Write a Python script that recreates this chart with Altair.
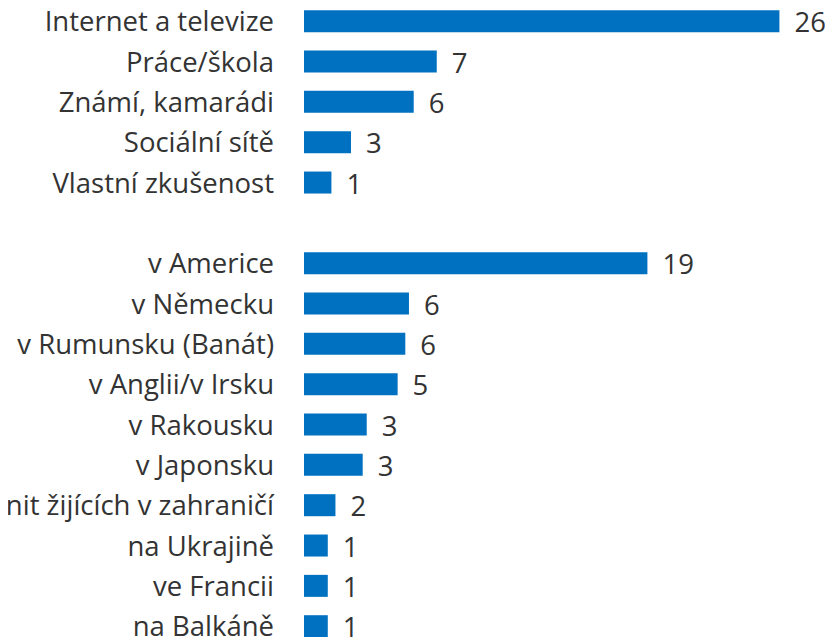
import altair as alt
import pandas as pd

categories = [
    "Internet a televize", "Práce/škola", "Známí, kamarádi", "Sociální sítě", "Vlastní zkušenost",
    "v Americe", "v Německu", "v Rumunsku (Banát)", "v Anglii/v Irsku", "v Rakousku",
    "v Japonsku", "u krajanských komunit žijících v zahraničí", "na Ukrajině", "ve Francii", "na Balkáně",
]
# bar lengths
values = [26.0, 7.26, 6.0, 2.57, 1.5,
          18.78, 5.74, 5.54, 5.12, 3.43,
          3.21, 1.72, 1.30, 1.30, 1.30]
# value labels printed next to bars
shown = ["26", "7", "6", "3", "1",
         "19", "6", "6", "5", "3",
         "3", "2", "1", "1", "1"]
# row slot (group gap after first five rows)
slots = [0, 1, 2, 3, 4, 6, 7, 8, 9, 10, 11, 12, 13, 14, 15]

df = pd.DataFrame({"cat": categories, "val": values, "lab": shown, "slot": slots})

FONT = "Open Sans"
TXT = "#333333"
BLUE = "#0070C0"

W = 512
H = 629

x = alt.X("val:Q", scale=alt.Scale(domain=[0, 28], range=[0, W], padding=0, nice=False), axis=None)
y = alt.Y("slot:Q", scale=alt.Scale(domain=[0, 15], range=[13.2, 618.2], padding=0, nice=False, zero=False),
          axis=None)

base = alt.Chart(df)

bars = base.mark_bar(color=BLUE, size=22, orient="horizontal").encode(
    x=x, x2=alt.datum(0), y=y
)

vals = base.mark_text(align="left", baseline="middle", dx=15, dy=3, font=FONT,
                      fontSize=27.5, color=TXT).encode(x=x, y=y, text="lab:N")

cats = base.mark_text(align="right", baseline="middle", dy=2, font=FONT,
                      fontSize=27.5, color=TXT).encode(
    x=alt.value(-30), y=y, text="cat:N")

chart = alt.layer(bars, vals, cats).properties(
    width=W, height=H,
    autosize=alt.AutoSizeParams(type="none"),
    padding={"left": 296, "top": 0, "right": 9, "bottom": 0},
).configure(background="white", view=alt.ViewConfig(stroke=None))

chart.save("out.html", embed_options={"renderer": "svg", "actions": False})
